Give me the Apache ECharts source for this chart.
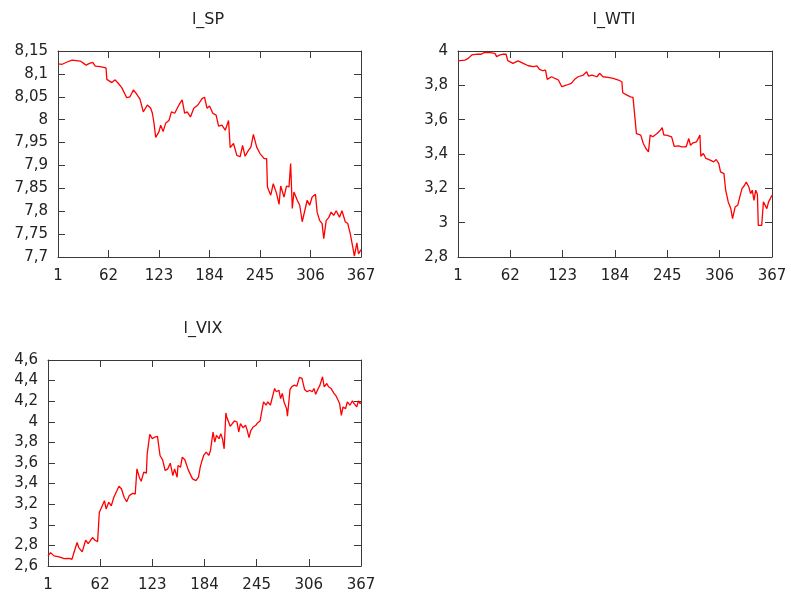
<!DOCTYPE html>
<html>
<head>
<meta charset="utf-8">
<script src="https://cdn.jsdelivr.net/npm/echarts@6/dist/echarts.min.js"></script>
<style>html,body{margin:0;padding:0;background:#fff}#c{width:791px;height:597px}</style>
</head>
<body>
<div id="c"></div>
<script>
// ---- data (observation number, value) ----
const titles = ['l_SP', 'l_WTI', 'l_VIX'];
const xTicks = [1, 62, 123, 184, 245, 306, 367];

const spT = [1,6,12,18,28,32,35,39,43,46,52,59,60,66,70,74,78,84,88,92,96,100,102,104,109,113,115,117,119,123,125,128,131,135,138,142,145,148,151,154,157,161,165,170,175,178,181,184,188,192,195,199,203,207,209,213,217,221,224,227,231,234,237,241,245,250,253,254,258,261,265,268,270,274,277,280,282,284,286,290,293,296,298,302,305,308,312,314,317,320,322,325,328,331,334,337,341,344,348,351,354,357,359,362,364,367];
const spV = [8.122,8.121,8.126,8.130,8.128,8.123,8.119,8.123,8.125,8.117,8.116,8.113,8.088,8.081,8.087,8.079,8.070,8.048,8.050,8.065,8.056,8.045,8.046,8.017,8.032,8.025,8.014,7.992,7.961,7.974,7.988,7.974,7.992,7.998,8.017,8.014,8.025,8.035,8.043,8.014,8.017,8.006,8.025,8.032,8.046,8.049,8.025,8.030,8.014,8.010,7.986,7.988,7.977,7.998,7.939,7.948,7.922,7.919,7.944,7.920,7.933,7.940,7.968,7.940,7.926,7.915,7.915,7.853,7.835,7.860,7.839,7.815,7.855,7.831,7.855,7.853,7.904,7.806,7.842,7.824,7.813,7.777,7.773,7.824,7.813,7.831,7.837,7.798,7.780,7.773,7.740,7.780,7.786,7.798,7.791,7.801,7.787,7.801,7.777,7.773,7.751,7.722,7.702,7.731,7.707,7.716];

const wtiT = [1,9,13,17,24,28,32,38,44,46,50,54,57,59,65,71,77,83,89,93,96,100,103,105,110,114,118,122,128,133,137,141,147,151,153,157,163,166,170,176,182,188,192,193,198,202,205,207,209,211,214,217,220,223,225,228,233,237,239,241,244,250,252,253,258,262,267,270,272,275,279,283,284,287,290,295,299,302,305,307,311,313,316,319,321,324,327,330,332,335,337,340,342,344,346,348,350,351,355,357,359,361,363,365,367];
const wtiV = [3.942,3.947,3.957,3.977,3.982,3.981,3.992,3.990,3.986,3.967,3.977,3.982,3.981,3.944,3.928,3.942,3.928,3.914,3.909,3.914,3.893,3.885,3.889,3.835,3.850,3.840,3.831,3.792,3.802,3.811,3.835,3.850,3.860,3.879,3.854,3.860,3.850,3.870,3.850,3.846,3.840,3.831,3.821,3.757,3.743,3.733,3.730,3.724,3.519,3.529,3.510,3.461,3.432,3.412,3.510,3.500,3.519,3.539,3.553,3.510,3.510,3.500,3.496,3.445,3.447,3.442,3.442,3.490,3.451,3.465,3.471,3.510,3.387,3.403,3.374,3.364,3.354,3.368,3.344,3.296,3.286,3.189,3.121,3.082,3.023,3.091,3.101,3.160,3.198,3.218,3.237,3.208,3.169,3.189,3.130,3.189,3.165,2.984,2.984,3.121,3.111,3.082,3.121,3.130,3.160];

const vixT = [1,4,8,14,20,26,29,31,35,37,41,45,48,53,56,59,61,63,67,69,72,75,78,80,84,87,90,93,96,100,103,105,108,110,113,116,117,120,123,126,129,132,135,138,141,144,147,149,152,153,156,158,161,165,170,174,177,179,181,183,186,189,191,194,196,198,201,203,205,207,209,210,214,216,219,222,224,226,229,232,234,236,238,241,244,246,249,251,253,256,258,261,263,266,268,271,273,275,277,280,281,284,286,289,292,295,298,301,304,307,310,312,314,316,319,322,324,327,329,332,335,338,340,342,344,346,349,351,354,357,359,362,364,366,367];
const vixV = [2.698,2.730,2.698,2.688,2.672,2.675,2.665,2.681,2.828,2.779,2.737,2.850,2.818,2.876,2.850,2.837,3.120,3.137,3.234,3.153,3.218,3.185,3.267,3.250,3.374,3.348,3.267,3.224,3.283,3.306,3.299,3.543,3.455,3.423,3.511,3.501,3.689,3.878,3.836,3.852,3.859,3.673,3.631,3.527,3.543,3.598,3.478,3.543,3.462,3.576,3.559,3.657,3.631,3.533,3.446,3.429,3.462,3.560,3.620,3.673,3.706,3.673,3.722,3.901,3.803,3.868,3.836,3.885,3.836,3.738,4.086,4.047,3.956,3.966,4.008,3.998,3.901,3.982,3.943,3.966,3.917,3.846,3.911,3.950,3.966,3.989,4.008,4.005,4.193,4.161,4.193,4.161,4.226,4.324,4.291,4.307,4.226,4.275,4.193,4.128,4.054,4.314,4.340,4.356,4.346,4.431,4.421,4.314,4.291,4.307,4.291,4.324,4.268,4.307,4.356,4.437,4.340,4.372,4.340,4.324,4.281,4.249,4.268,4.177,4.063,4.144,4.128,4.193,4.161,4.203,4.177,4.144,4.203,4.177,4.184];

// y-axis ranges
const yMin = [7.7, 2.8, 2.6];
const yMax = [8.15, 4.0, 4.6];
const yStep = [0.05, 0.2, 0.2];

// ---- layout ----
const grids = [
  {left: 58, top: 51, width: 303, height: 206},
  {left: 458, top: 51, width: 314, height: 206},
  {left: 48, top: 360, width: 313, height: 206}
];
const titlePos = [{x: 208, y: 12}, {x: 614, y: 12}, {x: 203, y: 321}];

const FONT = 'DejaVu Sans';
const FRAME = '#3a3a3a';
const fmtNum = v => String(+(+v).toFixed(2)).replace('.', ',');

const xAxes = [], yAxes = [], series = [], titleOpts = [];
const datasets = [[spT, spV], [wtiT, wtiV], [vixT, vixV]];

grids.forEach((g, i) => {
  titleOpts.push({
    text: titles[i], left: titlePos[i].x, top: titlePos[i].y, textAlign: 'center', padding: 0,
    textStyle: {fontFamily: FONT, fontSize: 16, fontWeight: 'normal', color: '#222'}
  });
  ['bottom', 'top'].forEach(pos => {
    xAxes.push({
      type: 'value', gridIndex: i, position: pos, min: xTicks[0], max: xTicks[xTicks.length - 1], interval: 61,
      axisLine: {show: true, onZero: false, lineStyle: {color: FRAME, width: 1}},
      axisTick: {show: true, inside: true, length: 7, lineStyle: {color: FRAME}},
      axisLabel: {show: pos === 'bottom', margin: 12, fontFamily: FONT, fontSize: 15, color: '#222',
                  formatter: v => String(Math.round(v)), showMinLabel: true, showMaxLabel: true},
      splitLine: {show: false}
    });
  });
  ['left', 'right'].forEach(pos => {
    yAxes.push({
      type: 'value', gridIndex: i, position: pos, min: yMin[i], max: yMax[i], interval: yStep[i],
      axisLine: {show: true, onZero: false, lineStyle: {color: FRAME, width: 1}},
      axisTick: {show: true, inside: true, length: 7, lineStyle: {color: FRAME}},
      axisLabel: {show: pos === 'left', margin: 10, fontFamily: FONT, fontSize: 15, color: '#222', formatter: fmtNum},
      splitLine: {show: false}
    });
  });
  const [t, v] = datasets[i];
  series.push({
    type: 'line', xAxisIndex: i * 2, yAxisIndex: i * 2,
    data: t.map((x, k) => [x, v[k]]),
    showSymbol: false, symbol: 'none',
    lineStyle: {color: '#ff0000', width: 1.3},
    clip: true
  });
});

const chart = echarts.init(document.getElementById('c'), null, {renderer: 'canvas'});
chart.setOption({
  animation: false,
  backgroundColor: '#ffffff',
  title: titleOpts,
  grid: grids.map(g => Object.assign({containLabel: false}, g)),
  xAxis: xAxes,
  yAxis: yAxes,
  series: series
});
</script>
</body>
</html>
